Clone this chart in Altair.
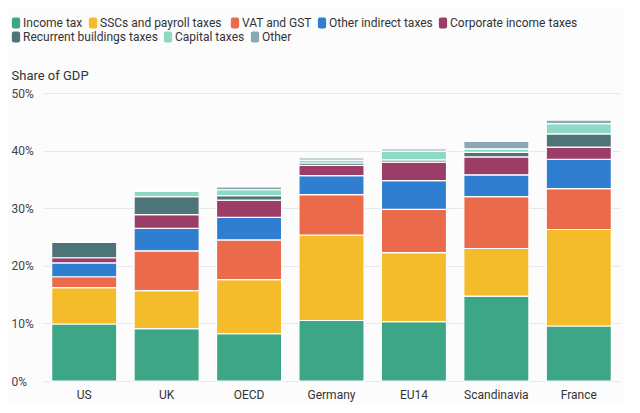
import altair as alt
import pandas as pd

countries = ["US", "UK", "OECD", "Germany", "EU14", "Scandinavia", "France"]

taxes = [
    "Income tax",
    "SSCs and  payroll taxes",
    "VAT and GST",
    "Other indirect taxes",
    "Corporate income taxes",
    "Recurrent buildings taxes",
    "Capital taxes",
    "Other",
]
colors = ["#3da686", "#f4bb2a", "#ea6a4b", "#2f7ed0", "#9b3d67", "#4c7479", "#8ed9c3", "#8aaab3"]

# share of GDP (%), one list per tax, in country order
income_tax = [9.9, 9.1, 8.2, 10.5, 10.3, 14.75, 9.55]
sscs = [6.3, 6.6, 9.4, 14.85, 12.0, 8.25, 16.75]
vat = [1.9, 6.9, 6.9, 7.0, 7.5, 9.0, 7.1]
other_indirect = [2.4, 3.9, 3.9, 3.3, 5.0, 3.8, 5.1]
corporate = [0.9, 2.4, 3.0, 1.8, 3.2, 3.1, 2.1]
buildings = [2.7, 3.1, 0.8, 0.4, 0.4, 0.8, 2.3]
capital = [0.0, 0.9, 1.0, 0.5, 1.5, 0.6, 1.8]
other = [0.0, 0.2, 0.5, 0.4, 0.4, 1.3, 0.6]

series = [income_tax, sscs, vat, other_indirect, corporate, buildings, capital, other]

rows = []
for i, (tax, vals) in enumerate(zip(taxes, series)):
    for c, v in zip(countries, vals):
        rows.append({"country": c, "tax": tax, "order": i, "value": v})
df = pd.DataFrame(rows)

# rounded, slightly tall legend swatch (vega custom paths live in -1..1)
swatch = ("M-0.4,-1 H0.4 A0.35,0.35 0 0 1 0.75,-0.65 V0.65 A0.35,0.35 0 0 1 0.4,1 "
          "H-0.4 A0.35,0.35 0 0 1 -0.75,0.65 V-0.65 A0.35,0.35 0 0 1 -0.4,-1 Z")


def legend(y):
    return alt.Legend(
        title=None, orient="none", legendX=-33, legendY=y, direction="horizontal",
        symbolType=swatch, symbolSize=121, symbolStrokeWidth=0, symbolOpacity=1,
        labelFontSize=12, labelColor="#333", labelOffset=1, columnPadding=4,
    )


x = alt.X(
    "country:N", sort=countries,
    scale=alt.Scale(paddingInner=0.21, paddingOuter=0.105),
    axis=alt.Axis(title=None, labelAngle=0, ticks=False, domain=False, grid=False,
                  labelPadding=8, labelFontSize=12, labelColor="#333"),
)
y_axis = alt.Axis(
    title="Share of GDP", titleAngle=0, titleAlign="left", titleBaseline="middle",
    titleX=-32, titleY=-18, titleFontSize=13, titleFontWeight="normal", titleColor="#333",
    values=[0, 10, 20, 30, 40, 50], labelExpr="datum.value + '%'",
    labelAlign="left", labelPadding=32, labelFontSize=12, labelColor="#444",
    ticks=False, domain=False, gridColor="#e8e8ec",
)

base = alt.Chart(df).transform_stack(
    stack="value", groupby=["country"], as_=["y0", "y1"], sort=[alt.SortField("order")]
)


def layer(names, cols, y):
    return (
        base.transform_filter(alt.FieldOneOfPredicate(field="tax", oneOf=names))
        .mark_bar(stroke="white", strokeWidth=1.2)
        .encode(
            x=x,
            y=alt.Y("y0:Q", scale=alt.Scale(domain=[0, 50]), axis=y_axis),
            y2="y1:Q",
            color=alt.Color("tax:N", scale=alt.Scale(domain=names, range=cols), legend=legend(y)),
        )
    )


chart = (
    alt.layer(layer(taxes[:5], colors[:5], -76), layer(taxes[5:], colors[5:], -62))
    .resolve_scale(color="independent")
    .properties(width=577, height=288, padding={"left": 2, "top": 9, "right": 5, "bottom": 5},
                background="#fcfcfd")
    .configure(font="Roboto")
    .configure_view(stroke=None)
)

chart.save("out.html", embed_options={"renderer": "svg", "actions": False})
